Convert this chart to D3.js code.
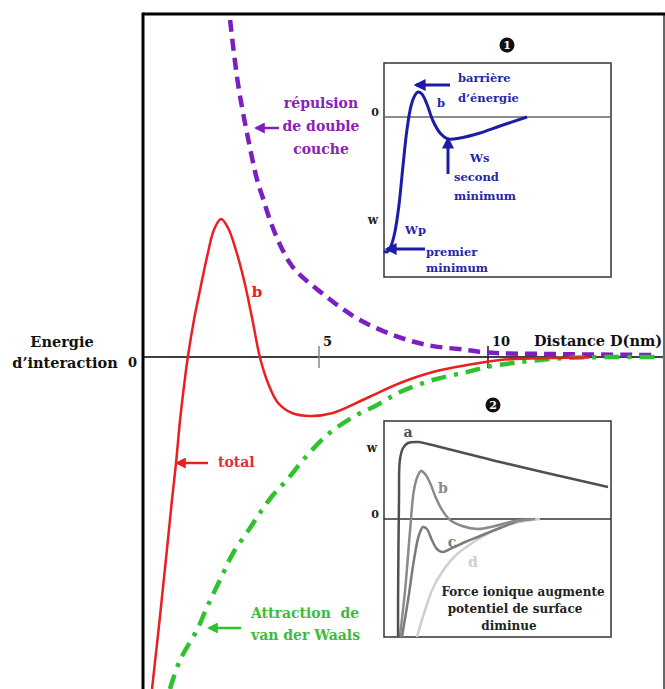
<!DOCTYPE html>
<html><head><meta charset="utf-8">
<script src="https://cdn.jsdelivr.net/npm/d3@7"></script>
<style>body{margin:0;background:#fff}svg{display:block}text{font-family:"DejaVu Serif",serif;font-weight:bold}</style>
</head><body>
<script>
// ---- main chart data (x: distance in nm, y: interaction energy, arbitrary units)
const xTicks = [5, 10];
const totalX = [0.06,0.30,0.50,0.65,0.77,0.89,1.01,1.12,1.30,1.48,1.72,1.89,2.10,2.31,2.54,2.78,3.02,3.25,3.49,3.79,4.20,4.73,5.41,6.42,7.40,8.37,9.38,10.36,11.83,13.0];
const totalE = [-16.6,-12.9,-9.65,-7.15,-5.3,-3.15,-1.4,0,1.85,3.35,5.25,6.35,6.9,6.45,5.35,3.85,1.95,0,-1.3,-2.3,-2.8,-2.95,-2.8,-2.05,-1.3,-0.75,-0.4,-0.15,-0.05,-0.02];
const repX = [2.37,2.60,2.87,3.17,3.34,3.55,3.85,4.20,4.64,5.12,5.62,6.21,7.19,8.20,9.38,9.97,11.83,14.94];
const repE = [16.85,13.7,11.2,8.85,7.95,6.85,5.6,4.55,3.8,3.15,2.5,1.85,1.1,0.6,0.35,0.22,0.15,0.1];
const vdwX = [0.59,0.89,1.39,1.69,2.07,2.46,2.96,3.25,3.64,4.05,4.53,5.24,6.01,6.72,7.40,8.37,9.38,9.97,10.74,11.83,12.72,15.2];
const vdwE = [-16.6,-15.15,-13.65,-12.5,-11.15,-9.8,-8.55,-7.8,-6.9,-6.15,-5.15,-3.9,-3.0,-2.4,-1.75,-1.15,-0.75,-0.5,-0.3,-0.1,-0.02,0];
// ---- inset 1 (single curve)
const in1X = [0.0,0.13,0.31,0.48,0.66,0.84,1.01,1.19,1.37,1.50,1.67,1.89,2.16,2.47,2.82,3.35,4.23,5.11,6.30];
const in1E = [-6.7,-6.75,-6.45,-5.75,-4.4,-2.4,-0.65,0.55,1.1,1.25,1.15,0.65,-0.2,-0.8,-1.1,-1.05,-0.8,-0.45,0];
// ---- inset 2 (four curves a-d)
const aX = [0.62,0.62,0.66,0.70,0.84,1.06,1.50,1.94,5.11,9.87];
const aE = [-5.9,-4.05,0.95,2.95,3.55,3.8,3.85,3.75,2.85,1.6];
const bX = [0.70,0.93,1.15,1.32,1.50,1.63,1.81,2.03,2.29,2.56,2.91,3.44,4.14,4.89,5.77,6.65];
const bE = [-5.9,-3.55,-0.55,1.45,2.2,2.4,2.25,1.8,1.05,0.45,-0.05,-0.35,-0.5,-0.35,-0.1,0];
const cX = [0.79,1.06,1.32,1.54,1.72,1.89,2.11,2.33,2.56,2.91,3.57,4.23,5.11,5.90,6.43];
const cE = [-5.9,-4.05,-2.05,-0.8,-0.4,-0.5,-1.05,-1.5,-1.65,-1.5,-1.15,-0.85,-0.45,-0.1,0];
const dX = [1.45,1.81,2.16,2.56,3.13,4.02,4.89,5.77,6.87];
const dE = [-5.9,-4.55,-3.45,-2.65,-1.85,-1.1,-0.55,-0.2,0];
const in2Names = ["a","b","c","d"];

const W = 665, H = 689;
const svg = d3.select("body").append("svg").attr("width", W).attr("height", H);
const defs = svg.append("defs");
function marker(id, color, s) {
  defs.append("marker").attr("id", id).attr("viewBox", "0 0 10 10").attr("refX", 8).attr("refY", 5)
    .attr("markerWidth", s).attr("markerHeight", s).attr("orient", "auto-start-reverse")
    .attr("markerUnits", "userSpaceOnUse")
    .append("path").attr("d", "M0,0L10,5L0,10z").attr("fill", color);
}
marker("mPur", "#7d1fc0", 11); marker("mRed", "#e82020", 11); marker("mGrn", "#2ec22e", 11); marker("mBlu", "#1c1ca8", 12);

const F = {l: 143, t: 14, r: 664, b: 689};
const x = d3.scaleLinear().domain([0, 15]).range([150, 657]);
const y = d3.scaleLinear().domain([-16.6, 17.15]).range([689, 14]);

defs.append("clipPath").attr("id", "clipMain").append("rect")
  .attr("x", F.l).attr("y", F.t).attr("width", F.r - F.l).attr("height", F.b - F.t);

const line = (sx, sy) => d3.line().x(d => sx(d[0])).y(d => sy(d[1])).curve(d3.curveCatmullRom.alpha(0.5));
const zip = (a, b) => a.map((v, i) => [v, b[i]]);

// frame
svg.append("line").attr("x1", F.r).attr("x2", F.r).attr("y1", F.t).attr("y2", F.b).attr("stroke", "#333").attr("stroke-width", 1.5);
svg.append("line").attr("x1", F.l).attr("x2", F.r + 1).attr("y1", F.t).attr("y2", F.t).attr("stroke", "#000").attr("stroke-width", 3);
svg.append("line").attr("x1", F.l).attr("x2", F.l).attr("y1", F.t - 1.5).attr("y2", F.b).attr("stroke", "#000").attr("stroke-width", 3);

// zero axis + ticks
svg.append("line").attr("x1", F.l).attr("x2", F.r).attr("y1", y(0)).attr("y2", y(0)).attr("stroke", "#000").attr("stroke-width", 1.5);
const tickG = svg.append("g");
tickG.selectAll("line").data(xTicks).join("line")
  .attr("x1", d => x(d)).attr("x2", d => x(d)).attr("y1", y(0) - 11).attr("y2", y(0) + 11)
  .attr("stroke", (d, i) => i === 0 ? "#888" : "#222").attr("stroke-width", 1.5);
tickG.selectAll("text").data(xTicks).join("text")
  .attr("x", d => x(d) + 4).attr("y", y(0) - 11).attr("font-size", 13).attr("fill", "#111").text(d => d);
svg.append("text").attr("x", 534).attr("y", y(0) - 11).attr("font-size", 14.5).attr("fill", "#111").text("Distance D(nm)");
svg.append("text").attr("x", 137).attr("y", 367).attr("text-anchor", "end").attr("font-size", 13).attr("fill", "#111").text("0");
svg.append("text").attr("x", 62).attr("y", 347).attr("text-anchor", "middle").attr("font-size", 14.5).attr("fill", "#111").text("Energie");
svg.append("text").attr("x", 65).attr("y", 368).attr("text-anchor", "middle").attr("font-size", 14.5).attr("fill", "#111").text("d\u2019interaction");

// curves
const cg = svg.append("g").attr("clip-path", "url(#clipMain)");
cg.append("path").attr("d", line(x, y)(zip(repX, repE))).attr("fill", "none")
  .attr("stroke", "#7d1fc0").attr("stroke-width", 4.5).attr("stroke-dasharray", "12,7");
cg.append("path").attr("d", line(x, y)(zip(vdwX, vdwE))).attr("fill", "none")
  .attr("stroke", "#2ec22e").attr("stroke-width", 4.5).attr("stroke-dasharray", "15,8,4,8");
cg.append("path").attr("d", line(x, y)(zip(totalX, totalE))).attr("fill", "none")
  .attr("stroke", "#e82020").attr("stroke-width", 2.5);

// annotations main
function arrow(x1, y1, x2, y2, color, mk, w) {
  svg.append("line").attr("x1", x1).attr("y1", y1).attr("x2", x2).attr("y2", y2)
    .attr("stroke", color).attr("stroke-width", w || 2.5).attr("marker-end", "url(#" + mk + ")");
}
const purT = "#8a22b8";
[["répulsion", 103], ["de double", 126], ["couche", 149]].forEach(([t, yy]) =>
  svg.append("text").attr("x", 321).attr("y", yy + 5).attr("text-anchor", "middle").attr("font-size", 14).attr("fill", purT).text(t));
arrow(279, 128, 256, 128, "#7d1fc0", "mPur", 2.5);
svg.append("text").attr("x", 257).attr("y", 297).attr("text-anchor", "middle").attr("font-size", 15).attr("fill", "#e82020").text("b");
svg.append("text").attr("x", 218).attr("y", 467).attr("font-size", 14).attr("fill", "#e03030").text("total");
arrow(208, 463, 177, 463, "#e82020", "mRed", 2.5);
svg.append("text").attr("x", 251).attr("y", 618).attr("font-size", 14).attr("fill", "#3cbb3c").attr("xml:space", "preserve").text("Attraction  de");
svg.append("text").attr("x", 251).attr("y", 640).attr("font-size", 14).attr("fill", "#3cbb3c").text("van der Waals");
arrow(241, 628, 209, 628, "#2ec22e", "mGrn", 2.5);

// badges
function badge(cx, cy, t) {
  svg.append("circle").attr("cx", cx).attr("cy", cy).attr("r", 7.5).attr("fill", "#111");
  svg.append("text").attr("x", cx).attr("y", cy + 4).attr("text-anchor", "middle").attr("font-size", 11)
    .attr("fill", "#fff").attr("font-family", "DejaVu Sans").text(t);
}
badge(507, 45, "1");
badge(493, 405, "2");

// ---- inset 1
const I1 = {l: 384, t: 63, r: 611, b: 277};
const x1 = d3.scaleLinear().domain([0, 10]).range([I1.l, I1.r]);
const y1 = d3.scaleLinear().domain([-8.0, 2.7]).range([I1.b, I1.t]);
svg.append("rect").attr("x", I1.l).attr("y", I1.t).attr("width", I1.r - I1.l).attr("height", I1.b - I1.t)
  .attr("fill", "#fff").attr("stroke", "#333").attr("stroke-width", 1.5);
svg.append("line").attr("x1", I1.l).attr("x2", I1.r).attr("y1", y1(0)).attr("y2", y1(0)).attr("stroke", "#666").attr("stroke-width", 1.5);
svg.append("path").attr("d", line(x1, y1)(zip(in1X, in1E))).attr("fill", "none").attr("stroke", "#1c1ca8").attr("stroke-width", 3);
svg.append("text").attr("x", 375).attr("y", 116).attr("text-anchor", "middle").attr("font-size", 11).attr("fill", "#222").text("0");
svg.append("text").attr("x", 373).attr("y", 224).attr("text-anchor", "middle").attr("font-size", 12).attr("fill", "#222").text("w");
const bluT = "#2626a6";
const t1 = [["barrière", 458, 82], ["d\u2019énergie", 458, 102], ["b", 437, 107], ["Ws", 470, 162], ["second", 454, 181], ["minimum", 454, 200], ["Wp", 405, 234], ["premier", 426, 256], ["minimum", 426, 272]];
t1.forEach(([t, xx, yy]) => svg.append("text").attr("x", xx).attr("y", yy).attr("font-size", 11.5).attr("fill", bluT).text(t));
arrow(450, 85, 416, 85, "#1c1ca8", "mBlu", 3);
arrow(448, 174, 448, 139, "#1c1ca8", "mBlu", 3);
arrow(425, 249, 387, 249, "#1c1ca8", "mBlu", 3);

// ---- inset 2
const I2 = {l: 384, t: 421, r: 611, b: 637};
const x2 = d3.scaleLinear().domain([0, 10]).range([I2.l, I2.r]);
const y2 = d3.scaleLinear().domain([-5.9, 4.9]).range([I2.b, I2.t]);
svg.append("rect").attr("x", I2.l).attr("y", I2.t).attr("width", I2.r - I2.l).attr("height", I2.b - I2.t)
  .attr("fill", "#fff").attr("stroke", "#333").attr("stroke-width", 1.5);
defs.append("clipPath").attr("id", "clip2").append("rect").attr("x", I2.l).attr("y", I2.t).attr("width", I2.r - I2.l).attr("height", I2.b - I2.t);
svg.append("line").attr("x1", I2.l).attr("x2", I2.r).attr("y1", y2(0)).attr("y2", y2(0)).attr("stroke", "#333").attr("stroke-width", 1.5);
const in2 = [zip(aX, aE), zip(bX, bE), zip(cX, cE), zip(dX, dE)];
const in2Col = ["#505050", "#8a8a8a", "#7a7a7a", "#cfcfcf"];
const g2 = svg.append("g").attr("clip-path", "url(#clip2)");
[3, 2, 1, 0].forEach(i => g2.append("path").attr("d", line(x2, y2)(in2[i])).attr("fill", "none").attr("stroke", in2Col[i]).attr("stroke-width", 2.5));
const labPos = [[408, 437], [443, 493], [452, 547], [473, 567]];
in2Names.forEach((n, i) => svg.append("text").attr("x", labPos[i][0]).attr("y", labPos[i][1]).attr("text-anchor", "middle")
  .attr("font-size", 14).attr("fill", in2Col[i]).text(n));
svg.append("text").attr("x", 372).attr("y", 452).attr("text-anchor", "middle").attr("font-size", 12).attr("fill", "#222").text("w");
svg.append("text").attr("x", 375).attr("y", 518).attr("text-anchor", "middle").attr("font-size", 11).attr("fill", "#222").text("0");
[["Force ionique augmente", 523, 596], ["potentiel de surface", 515, 613], ["diminue", 509, 630]].forEach(([t, xx, yy]) =>
  svg.append("text").attr("x", xx).attr("y", yy).attr("text-anchor", "middle").attr("font-size", 12).attr("fill", "#222").text(t));
</script>
</body></html>
